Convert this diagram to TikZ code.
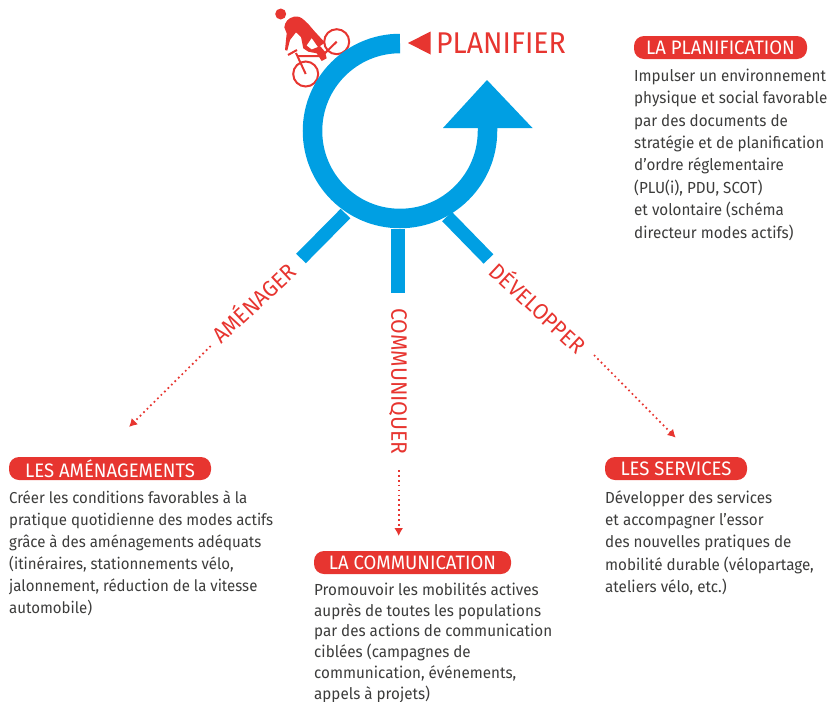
\documentclass[tikz,border=0pt]{standalone}
\usepackage{fontspec}
\setmainfont[FakeStretch=0.95]{Fira Sans}
\usepackage{tikz}
\usetikzlibrary{arrows.meta}
\definecolor{ringblue}{HTML}{009FE3}
\definecolor{labred}{HTML}{E73530}
\definecolor{bodygrey}{HTML}{3C3C3B}
\tikzset{verb/.style = {text = labred, inner sep = 0, font = \fontsize{22.3}{22.3}\selectfont}}
\tikzset{pill/.style = {fill = labred, text = white, rounded corners = 10, inner sep = 0, minimum height = 23,
                        font = \fontsize{19.5}{19.5}\selectfont}}
\tikzset{para/.style = {text = bodygrey, anchor = north west, inner sep = 0, align = left,
                        font = \fontsize{16}{22.2}\selectfont}}
\tikzset{bar/.style = {draw = ringblue, line width = 13.5}}
\tikzset{frame/.style = {draw = labred, line width = 2}}
\tikzset{dotarrow/.style = {draw = labred, line width = 1.7, dash pattern = on 1.7 off 3.2,
                            -{Latex[length=8,width=9]}}}
\begin{document}
\begin{tikzpicture}[x=1pt, y=1pt]
      \useasboundingbox (0, 0) rectangle (831, -702);

      % cyclist
      \fill [labred] (280.7, -14) circle (5.5);
      \draw [frame] (336.7, -41.7) circle (12.5);
      \draw [frame] (305.7, -74) circle (12.5);
      \fill [labred, even odd rule] (284.3, -27.3) .. controls (285, -22) and (288, -18) .. (294, -16.7)
            .. controls (298, -16) and (301, -17) .. (304, -20) -- (308.3, -24) -- (314, -30.7) -- (325, -42.7)
            -- (320, -46) -- (325, -51.7) -- (326.7, -58.3) -- (321.7, -61) -- (316.7, -53.3) -- (308.3, -51.7)
            -- (303.3, -48.3) -- (301, -37) -- (296, -32.3) -- (290, -40) -- (287.3, -50.7) -- (285, -50)
            -- (286.7, -33.3) -- cycle
            (306.5, -45.5) -- (311.7, -38) -- (318, -47) -- (311.7, -49.5) -- cycle;
      \draw [frame] (305.7, -74) -- (296, -53) (288, -55) -- (297, -50);
      \draw [frame] (298, -56) -- (322, -56) -- (336.7, -41.7);

      % ring and its arrow
      \draw [ringblue, line width = 19.5] (400, -43.5) arc (90:360:87.5) -- (487.5, -125);
      \fill [ringblue] (443, -128) -- (487, -80) -- (532.5, -128) -- cycle;

      % spokes
      \coordinate (amenagerIn) at (345.5, -213.5);
      \coordinate (amenagerOut) at (301, -258.5);
      \coordinate (communiquerIn) at (398, -228.5);
      \coordinate (communiquerOut) at (398, -292.5);
      \coordinate (developperIn) at (447, -216.5);
      \coordinate (developperOut) at (488.5, -259);
      \draw [bar] (amenagerIn) -- (amenagerOut);
      \draw [bar] (communiquerIn) -- (communiquerOut);
      \draw [bar] (developperIn) -- (developperOut);

      % verbs
      \node (planifier) at (501, -43) [verb, font = \fontsize{30}{30}\selectfont] {PLANIFIER};
      \fill [labred] (408, -43) -- (430.5, -31.5) -- (430.5, -54.5) -- cycle;
      \node (amenager) at (253, -302) [verb, rotate = 43] {AMÉNAGER};
      \node (communiquer) at (398, -381.5) [verb, rotate = -90] {COMMUNIQUER};
      \node (developper) at (539, -307) [verb, rotate = -43] {DÉVELOPPER};

      % titles
      \node (planifTitle) at (720.5, -47.5) [pill, minimum width = 173] {LA PLANIFICATION};
      \node (amenagTitle) at (110, -468.5) [pill, minimum width = 202] {LES AMÉNAGEMENTS};
      \node (commTitle) at (412.5, -562.5) [pill, minimum width = 197] {LA COMMUNICATION};
      \node (servTitle) at (676, -468.5) [pill, minimum width = 142] {LES SERVICES};

      % dotted arrows
      \coordinate (amenagerStart) at (210.7, -346);
      \coordinate (amenagerEnd) at (129, -427);
      \coordinate (communiquerStart) at (398.7, -470);
      \coordinate (communiquerEnd) at (398.7, -536);
      \coordinate (developperStart) at (594, -355);
      \coordinate (developperEnd) at (675.7, -437.7);
      \draw [dotarrow] (amenagerStart) -- (amenagerEnd);
      \draw [dotarrow] (communiquerStart) -- (communiquerEnd);
      \draw [dotarrow] (developperStart) -- (developperEnd);

      % paragraphs
      \node (planifText) at (634, -68.5) [para, font = \fontsize{16}{22.45}\selectfont] {Impulser un environnement\\physique et social favorable\\par des documents de\\stratégie et de planification\\d’ordre réglementaire\\(PLU(i), PDU, SCOT)\\et volontaire (schéma\\directeur modes actifs)};
      \node (amenagText) at (9, -490.5) [para, font = \fontsize{15.8}{22}\selectfont] {Créer les conditions favorables à la\\pratique quotidienne des modes actifs\\grâce à des aménagements adéquats\\(itinéraires, stationnements vélo,\\jalonnement, réduction de la vitesse\\automobile)};
      \node (commText) at (314, -582.5) [para, font = \fontsize{16}{20.7}\selectfont] {Promouvoir les mobilités actives\\auprès de toutes les populations\\par des actions de communication\\ciblées (campagnes de\\communication, événements,\\appels à projets)};
      \node (servText) at (605, -490.5) [para] {Développer des services\\et accompagner l’essor\\des nouvelles pratiques de\\mobilité durable (vélopartage,\\ateliers vélo, etc.)};
    \end{tikzpicture}
\end{document}
